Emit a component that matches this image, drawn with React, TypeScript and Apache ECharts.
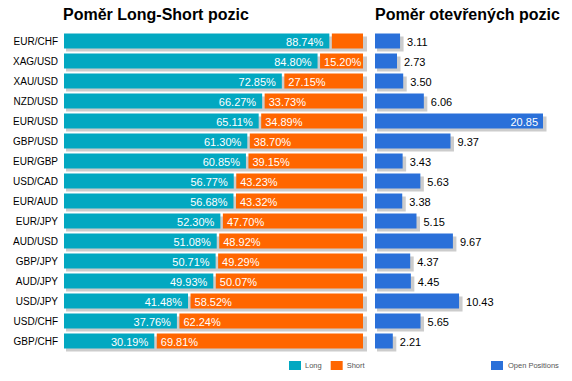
import React, { useEffect, useRef } from "react";
import * as echarts from "echarts";

const categories = [
  "EUR/CHF", "XAG/USD", "XAU/USD", "NZD/USD", "EUR/USD", "GBP/USD", "EUR/GBP", "USD/CAD",
  "EUR/AUD", "EUR/JPY", "AUD/USD", "GBP/JPY", "AUD/JPY", "USD/JPY", "USD/CHF", "GBP/CHF",
];
const longPct = [88.74, 84.8, 72.85, 66.27, 65.11, 61.3, 60.85, 56.77, 56.68, 52.3, 51.08, 50.71, 49.93, 41.48, 37.76, 30.19];
const shortPct = [11.26, 15.2, 27.15, 33.73, 34.89, 38.7, 39.15, 43.23, 43.32, 47.7, 48.92, 49.29, 50.07, 58.52, 62.24, 69.81];
const openPositions = [3.11, 2.73, 3.5, 6.06, 20.85, 9.37, 3.43, 5.63, 3.38, 5.15, 9.67, 4.37, 4.45, 10.43, 5.65, 2.21];

const TEAL = "#02A8C1";
const ORANGE = "#FF6600";
const BLUE = "#2A70D9";
const SHADOW = "#CCCCCC";
const FONT = 'Arial, "Liberation Sans", sans-serif';
const BAR_H = 15;

export default function App() {
  const ref = useRef<HTMLDivElement>(null);

  useEffect(() => {
    if (!ref.current) return;
    const chart = echarts.init(ref.current, null, { renderer: "svg" });
    const maxOpen = Math.max(...openPositions);

    const option: any = {
      animation: false,
      color: [TEAL, ORANGE, BLUE],
      title: [
        {
          text: "Poměr Long-Short pozic",
          left: 63,
          top: 6,
          padding: 0,
          textStyle: { fontSize: 16, fontWeight: "bold", color: "#000", fontFamily: FONT },
        },
        {
          text: "Poměr otevřených pozic",
          left: 375,
          top: 6,
          padding: 0,
          textStyle: { fontSize: 16, fontWeight: "bold", color: "#000", fontFamily: FONT },
        },
      ],
      legend: [
        {
          data: ["Long", "Short"],
          left: 289,
          top: 361,
          itemWidth: 12,
          itemHeight: 9,
          itemGap: 9,
          icon: "rect",
          padding: 0,
          textStyle: { fontSize: 7.5, color: "#555", fontFamily: FONT, padding: [0, 0, 0, -1] },
        },
        {
          data: ["Open Positions"],
          left: 491,
          top: 361,
          itemWidth: 12,
          itemHeight: 9,
          icon: "rect",
          padding: 0,
          textStyle: { fontSize: 7.5, color: "#555", fontFamily: FONT },
        },
      ],
      grid: [
        { left: 64, top: 31, width: 299, height: 320 },
        { left: 375, top: 31, width: 168, height: 320 },
      ],
      xAxis: [
        { type: "value", gridIndex: 0, min: 0, max: 100, show: false },
        { type: "value", gridIndex: 1, min: 0, max: maxOpen, show: false },
      ],
      yAxis: [
        {
          type: "category",
          gridIndex: 0,
          data: categories,
          inverse: true,
          axisLine: { show: false },
          axisTick: { show: false },
          splitLine: { show: false },
          axisLabel: { fontSize: 10, color: "#000", fontFamily: FONT, margin: 6 },
        },
        {
          type: "category",
          gridIndex: 1,
          data: categories,
          inverse: true,
          show: false,
        },
      ],
      series: [
        {
          name: "Long",
          type: "custom",
          xAxisIndex: 0,
          yAxisIndex: 0,
          itemStyle: { color: TEAL },
          encode: { x: 0, y: 1 },
          data: longPct.map((v, i) => [v, i]),
          renderItem: (params: any, api: any) => {
            const v = api.value(0);
            const yi = api.value(1);
            const p0 = api.coord([0, yi]);
            const pv = api.coord([v, yi]);
            const p100 = api.coord([100, yi]);
            const y0 = p0[1] - BAR_H / 2;
            return {
              type: "group",
              children: [
                {
                  type: "rect",
                  shape: { x: p0[0] + 2, y: y0 + 3, width: p100[0] - p0[0] + 2, height: BAR_H },
                  style: { fill: SHADOW },
                },
                {
                  type: "rect",
                  shape: { x: p0[0], y: y0, width: pv[0] - p0[0], height: BAR_H },
                  style: { fill: TEAL },
                },
                {
                  type: "text",
                  x: pv[0] - 6,
                  y: p0[1] + 0.5,
                  style: {
                    text: v.toFixed(2) + "%",
                    fill: "#fff",
                    fontSize: 11,
                    fontFamily: FONT,
                    align: "right",
                    verticalAlign: "middle",
                  },
                },
              ],
            };
          },
        },
        {
          name: "Short",
          type: "custom",
          xAxisIndex: 0,
          yAxisIndex: 0,
          itemStyle: { color: ORANGE },
          encode: { x: 0, y: 1 },
          data: shortPct.map((v, i) => [v, i]),
          renderItem: (params: any, api: any) => {
            const v = api.value(0);
            const yi = api.value(1);
            const ps = api.coord([100 - v, yi]);
            const p100 = api.coord([100, yi]);
            const y0 = ps[1] - BAR_H / 2;
            const x0 = ps[0] + 2.5;
            const w = p100[0] - x0;
            const children: any[] = [
              {
                type: "rect",
                shape: { x: x0, y: y0, width: w, height: BAR_H },
                style: { fill: ORANGE },
              },
            ];
            if (w > 40) {
              children.push({
                type: "text",
                x: x0 + 4,
                y: ps[1] + 0.5,
                style: {
                  text: v.toFixed(2) + "%",
                  fill: "#fff",
                  fontSize: 11,
                  fontFamily: FONT,
                  align: "left",
                  verticalAlign: "middle",
                },
              });
            }
            return { type: "group", children };
          },
        },
        {
          name: "Open Positions",
          type: "custom",
          xAxisIndex: 1,
          yAxisIndex: 1,
          itemStyle: { color: BLUE },
          encode: { x: 0, y: 1 },
          data: openPositions.map((v, i) => [v, i]),
          renderItem: (params: any, api: any) => {
            const v = api.value(0);
            const yi = api.value(1);
            const p0 = api.coord([0, yi]);
            const pv = api.coord([v, yi]);
            const y0 = p0[1] - BAR_H / 2;
            const inside = v / maxOpen > 0.8;
            return {
              type: "group",
              children: [
                {
                  type: "rect",
                  shape: { x: p0[0] + 2, y: y0 + 3, width: pv[0] - p0[0] + 1.5, height: BAR_H },
                  style: { fill: SHADOW },
                },
                {
                  type: "rect",
                  shape: { x: p0[0], y: y0, width: pv[0] - p0[0], height: BAR_H },
                  style: { fill: BLUE },
                },
                {
                  type: "text",
                  x: inside ? pv[0] - 5 : pv[0] + 7,
                  y: p0[1] + 0.5,
                  style: {
                    text: v.toFixed(2),
                    fill: inside ? "#fff" : "#000",
                    fontSize: 11,
                    fontFamily: FONT,
                    align: inside ? "right" : "left",
                    verticalAlign: "middle",
                  },
                },
              ],
            };
          },
        },
      ],
    };

    chart.setOption(option);
    return () => chart.dispose();
  }, []);

  return (
    <div
      ref={ref}
      style={{ position: "fixed", left: 0, top: 0, width: 572, height: 381, background: "#fff" }}
    />
  );
}
